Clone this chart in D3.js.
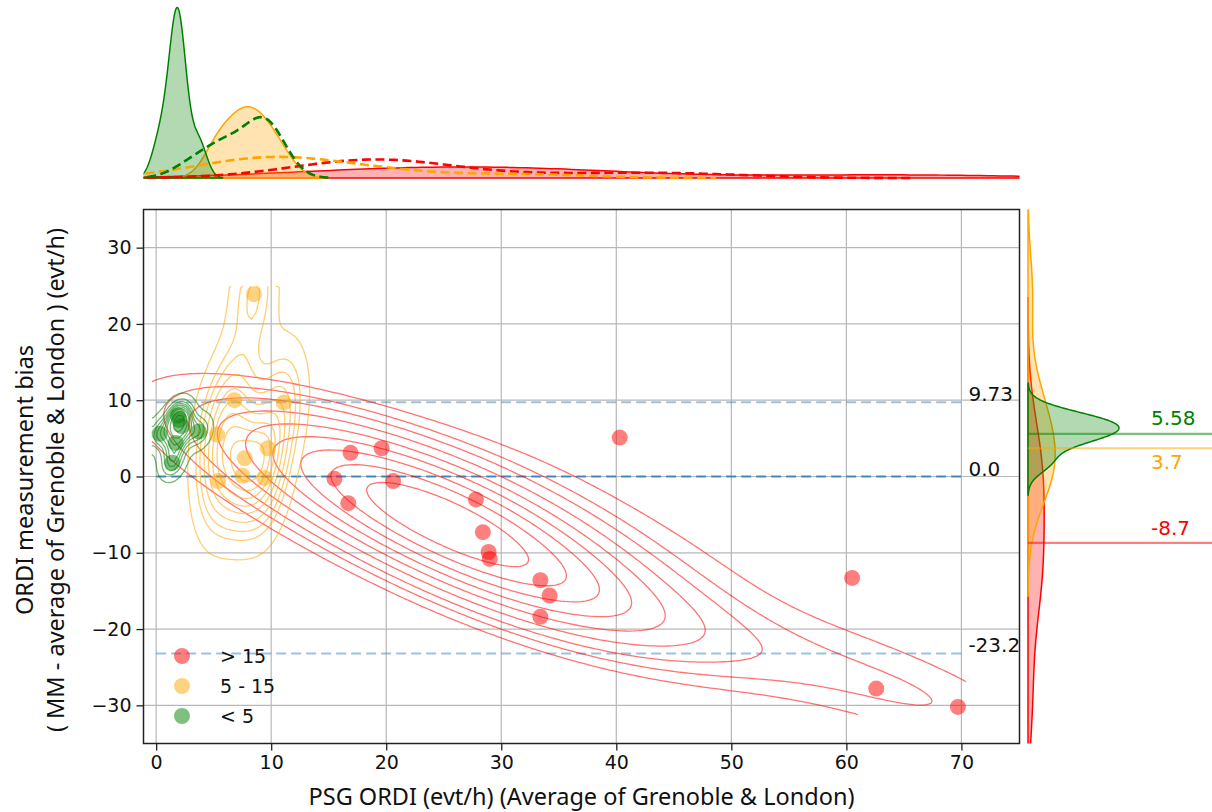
<!DOCTYPE html>
<html><head><meta charset="utf-8">
<script src="https://cdn.jsdelivr.net/npm/d3@7"></script>
<style>body{margin:0;background:#fff}svg{display:block}</style>
</head><body>
<svg id="chart" width="1212" height="812"></svg>
<script>
// ---------------- data ----------------
const xTicks = [0, 10, 20, 30, 40, 50, 60, 70];
const yTicks = [-30, -20, -10, 0, 10, 20, 30];
const groupNames = ["> 15", "5 - 15", "< 5"];
const groupColors = ["red", "orange", "green"];
const redX = [15.5, 16.9, 16.7, 19.6, 20.6, 27.8, 28.4, 28.9, 29.0, 33.4, 34.2, 33.4, 40.3, 60.5, 62.6, 69.7];
const redY = [-0.3, 3.1, -3.5, 3.7, -0.6, -3.0, -7.3, -9.9, -10.8, -13.6, -15.6, -18.4, 5.1, -13.3, -27.8, -30.2];
const orangeX = [8.5, 6.8, 11.1, 5.3, 9.7, 7.7, 5.4, 7.5, 9.4];
const orangeY = [23.9, 10.0, 9.7, 5.5, 3.7, 2.4, -0.6, 0.1, -0.2];
const greenX = [0.3, 1.9, 2.0, 2.2, 1.7, 1.4, 3.7];
const greenY = [5.6, 8.0, 7.4, 6.6, 4.4, 1.8, 5.9];
const limitValues = [9.73, 0.0, -23.2];
const limitLabels = ["9.73", "0.0", "-23.2"];
const groupMeans = [-8.7, 3.7, 5.58];
const groupMeanLabels = ["-8.7", "3.7", "5.58"];
const xLabel = "PSG ORDI (evt/h) (Average of Grenoble & London)";
const yLabelLines = ["ORDI measurement bias", "( MM - average of Grenoble & London ) (evt/h)"];

const groupXs = [redX, orangeX, greenX];
const groupYs = [redY, orangeY, greenY];
const bwAdjust2d = [1.2, 1.0, 1.0];
const contourThresh = [0.2, 0.05, 0.05];
const groups = groupNames.map((name, i) => ({
  name, color: groupColors[i], xs: groupXs[i], ys: groupYs[i], bw: bwAdjust2d[i], thresh: contourThresh[i],
  mms: groupXs[i].map((v, k) => v + groupYs[i][k]),
  mean: groupMeans[i], meanLabel: groupMeanLabels[i]
}));

// ---------------- layout ----------------
const svg = d3.select("#chart");
const M = {left: 143.5, right: 1019.5, top: 209.5, bottom: 743.5};
const x = d3.scaleLinear().domain([-1.1, 75.05]).range([M.left, M.right]);
const y = d3.scaleLinear().domain([-35, 35]).range([M.bottom, M.top]);
const topBase = 178, topPeak = 7.5;
const rightBase = 1028, rightPeak = 1119;
const tickFont = "DejaVu Sans, sans-serif";
const labelFont = "'Noto Sans', sans-serif";

const defs = svg.append("defs");
defs.append("clipPath").attr("id", "clipMain").append("rect")
  .attr("x", M.left).attr("y", M.top).attr("width", M.right - M.left).attr("height", M.bottom - M.top);
defs.append("clipPath").attr("id", "clipTop").append("rect")
  .attr("x", M.left).attr("y", 0).attr("width", M.right - M.left).attr("height", topBase + 2);
defs.append("clipPath").attr("id", "clipRight").append("rect")
  .attr("x", rightBase - 2).attr("y", M.top).attr("width", 1212 - rightBase + 2).attr("height", M.bottom - M.top);

// ---------------- KDE helpers ----------------
function kde1d(vals, nGrid = 200, cut = 3) {
  const n = vals.length;
  const bw = d3.deviation(vals) * Math.pow(n, -1 / 5);
  const lo = d3.min(vals) - cut * bw, hi = d3.max(vals) + cut * bw;
  const norm = 1 / (n * bw * Math.sqrt(2 * Math.PI));
  return d3.range(nGrid).map(i => {
    const t = lo + (hi - lo) * i / (nGrid - 1);
    let s = 0;
    for (const v of vals) { const z = (t - v) / bw; s += Math.exp(-0.5 * z * z); }
    return [t, s * norm];
  });
}
function kde2dGrid(xs, ys, adj, x0, x1, y0, y1, n) {
  const N = xs.length;
  const mx = d3.mean(xs), my = d3.mean(ys);
  let sxx = 0, syy = 0, sxy = 0;
  for (let i = 0; i < N; i++) {
    const dx = xs[i] - mx, dy = ys[i] - my;
    sxx += dx * dx; syy += dy * dy; sxy += dx * dy;
  }
  sxx /= (N - 1); syy /= (N - 1); sxy /= (N - 1);
  const f2 = Math.pow(N, -2 / 6) * adj * adj;
  const a = sxx * f2, b = sxy * f2, d = syy * f2;
  const det = a * d - b * b;
  const ia = d / det, ib = -b / det, id = a / det;
  const vals = new Float64Array(n * n);
  const stepX = (x1 - x0) / (n - 1), stepY = (y1 - y0) / (n - 1);
  for (let j = 0; j < n; j++) {
    const gy = y0 + j * stepY;
    for (let i = 0; i < n; i++) {
      const gx = x0 + i * stepX;
      let s = 0;
      for (let k = 0; k < N; k++) {
        const u = gx - xs[k], v = gy - ys[k];
        s += Math.exp(-0.5 * (ia * u * u + 2 * ib * u * v + id * v * v));
      }
      vals[j * n + i] = s / (N * 2 * Math.PI * Math.sqrt(det));
    }
  }
  return {vals, stepX, stepY};
}
function isoLevels(vals, props) {
  const sorted = Array.from(vals).sort((p, q) => q - p);
  const total = d3.sum(sorted);
  const cum = []; let c = 0;
  for (const v of sorted) { c += v; cum.push(c / total); }
  return props.map(p => {
    let idx = d3.bisectLeft(cum, 1 - p);
    idx = Math.min(idx, sorted.length - 1);
    return sorted[idx];
  });
}

// ---------------- grid & axes ----------------
const gGrid = svg.append("g");
xTicks.forEach(t => gGrid.append("line").attr("x1", x(t)).attr("x2", x(t)).attr("y1", M.top).attr("y2", M.bottom)
  .attr("stroke", "#b8b8b8").attr("stroke-width", 1.2));
yTicks.forEach(t => gGrid.append("line").attr("y1", y(t)).attr("y2", y(t)).attr("x1", M.left).attr("x2", M.right)
  .attr("stroke", "#b8b8b8").attr("stroke-width", 1.2));

const xAxis = svg.append("g").attr("transform", `translate(0,${M.bottom})`)
  .call(d3.axisBottom(x).tickValues(xTicks).tickSize(7).tickPadding(5).tickSizeOuter(0));
const yAxis = svg.append("g").attr("transform", `translate(${M.left},0)`)
  .call(d3.axisLeft(y).tickValues(yTicks).tickSize(7).tickPadding(5).tickSizeOuter(0));
[xAxis, yAxis].forEach(g => {
  g.select(".domain").remove();
  g.selectAll(".tick line").attr("stroke", "#222").attr("stroke-width", 1.3);
  g.selectAll(".tick text").attr("font-family", tickFont).attr("font-size", 19).attr("fill", "#111");
});

// ---------------- limit lines ----------------
const gLim = svg.append("g");
limitValues.forEach((v, i) => {
  gLim.append("line").attr("x1", x(0)).attr("x2", x(70)).attr("y1", y(v)).attr("y2", y(v))
    .attr("stroke", "#1f77b4").attr("stroke-opacity", v === 0 ? 0.8 : 0.45)
    .attr("stroke-width", 2.2).attr("stroke-dasharray", "10,5");
  gLim.append("text").attr("x", x(70) + 7).attr("y", y(v) - 1).text(limitLabels[i])
    .attr("font-family", tickFont).attr("font-size", 20).attr("fill", "#111");
});

// ---------------- contours ----------------
const allX = [].concat(...groupXs), allY = [].concat(...groupYs);
const gx0 = d3.min(allX) - 0.5, gx1 = d3.max(allX) + 0.5;
const gy0 = d3.min(allY) - 0.9, gy1 = d3.max(allY) + 0.9;
const nG = 200;
const gCont = svg.append("g").attr("clip-path", "url(#clipMain)");
groups.forEach(gr => {
  const {vals, stepX, stepY} = kde2dGrid(gr.xs, gr.ys, gr.bw, gx0, gx1, gy0, gy1, nG);
  const props = d3.range(10).map(i => gr.thresh + i * ((1 - gr.thresh) / 9));
  const levels = isoLevels(vals, props);
  const conts = d3.contours().size([nG, nG]).thresholds(levels)(vals);
  const onB = p => p[0] === 0 || p[0] === nG || p[1] === 0 || p[1] === nG;
  const toPx = p => [x(gx0 + (p[0] - 0.5) * stepX), y(gy0 + (p[1] - 0.5) * stepY)];
  let dStr = "";
  conts.forEach(c => {
    c.coordinates.forEach(poly => poly.forEach(ring => {
      let pen = false;
      for (let k = 1; k < ring.length; k++) {
        const p = ring[k - 1], q = ring[k];
        if (onB(p) && onB(q)) { pen = false; continue; }
        const P = toPx(p), Q = toPx(q);
        if (!pen) { dStr += `M${P[0].toFixed(2)},${P[1].toFixed(2)}`; pen = true; }
        dStr += `L${Q[0].toFixed(2)},${Q[1].toFixed(2)}`;
      }
    }));
  });
  gCont.append("path").attr("d", dStr).attr("fill", "none")
    .attr("stroke", gr.color).attr("stroke-opacity", 0.55).attr("stroke-width", 1.3)
    .attr("stroke-linejoin", "round");
});

// ---------------- scatter ----------------
const gPts = svg.append("g").attr("clip-path", "url(#clipMain)");
groups.forEach(gr => {
  gr.xs.forEach((v, k) => gPts.append("circle").attr("cx", x(v)).attr("cy", y(gr.ys[k])).attr("r", 8)
    .attr("fill", gr.color).attr("fill-opacity", 0.5));
});

// spine
svg.append("rect").attr("x", M.left).attr("y", M.top).attr("width", M.right - M.left).attr("height", M.bottom - M.top)
  .attr("fill", "none").attr("stroke", "#222").attr("stroke-width", 1.5);

// ---------------- legend ----------------
const gLeg = svg.append("g");
groups.forEach((gr, i) => {
  const cy = 656 + i * 30;
  gLeg.append("circle").attr("cx", 182).attr("cy", cy).attr("r", 8).attr("fill", gr.color).attr("fill-opacity", 0.5);
  gLeg.append("text").attr("x", 220).attr("y", cy).attr("dy", "0.35em").text(gr.name)
    .attr("font-family", tickFont).attr("font-size", 19).attr("fill", "#111");
});

// ---------------- top marginal ----------------
const topKdes = groups.map(gr => ({gr, solid: kde1d(gr.xs), dashed: kde1d(gr.mms)}));
const topMax = d3.max(topKdes, t => Math.max(d3.max(t.solid, d => d[1]), d3.max(t.dashed, d => d[1])));
const ty = d3.scaleLinear().domain([0, topMax]).range([topBase, topPeak]);
const gTop = svg.append("g").attr("clip-path", "url(#clipTop)");
const topArea = d3.area().x(d => x(d[0])).y0(ty(0)).y1(d => ty(d[1]));
const topLine = d3.line().x(d => x(d[0])).y(d => ty(d[1]));
topKdes.forEach(t => {
  gTop.append("path").attr("d", topArea(t.solid)).attr("fill", t.gr.color).attr("fill-opacity", 0.3)
    .attr("stroke", t.gr.color).attr("stroke-width", 1.5);
});
topKdes.forEach(t => {
  gTop.append("path").attr("d", topLine(t.dashed)).attr("fill", "none")
    .attr("stroke", t.gr.color).attr("stroke-width", 2.6).attr("stroke-dasharray", "9,4.5");
});

// ---------------- right marginal ----------------
const rightKdes = groups.map(gr => ({gr, pts: kde1d(gr.ys)}));
const rMax = d3.max(rightKdes, t => d3.max(t.pts, d => d[1]));
const rx = d3.scaleLinear().domain([0, rMax]).range([rightBase, rightPeak]);
const gRight = svg.append("g").attr("clip-path", "url(#clipRight)");
const rArea = d3.area().y(d => y(d[0])).x0(rx(0)).x1(d => rx(d[1]));
rightKdes.forEach(t => {
  gRight.append("path").attr("d", rArea(t.pts)).attr("fill", t.gr.color).attr("fill-opacity", 0.3)
    .attr("stroke", t.gr.color).attr("stroke-width", 1.5);
});
const labelOffsets = [-8, 21, -9];
groups.forEach((gr, i) => {
  svg.append("line").attr("x1", rightBase).attr("x2", 1212).attr("y1", y(gr.mean)).attr("y2", y(gr.mean))
    .attr("stroke", gr.color).attr("stroke-opacity", 0.5).attr("stroke-width", 2.2);
  svg.append("text").attr("x", 1151).attr("y", y(gr.mean) + labelOffsets[i]).text(gr.meanLabel)
    .attr("font-family", tickFont).attr("font-size", 20).attr("fill", gr.color);
});

// ---------------- axis labels ----------------
svg.append("text").attr("x", (M.left + M.right) / 2).attr("y", 805).attr("text-anchor", "middle")
  .attr("font-family", labelFont).attr("font-size", 23.5).attr("fill", "#111").text(xLabel);
const ylc = 480;
yLabelLines.forEach((s, i) => {
  svg.append("text").attr("transform", `translate(${33 + i * 31},${ylc}) rotate(-90)`)
    .attr("text-anchor", "middle").attr("font-family", labelFont).attr("font-size", 23.5)
    .attr("fill", "#111").text(s);
});
</script>
</body></html>
